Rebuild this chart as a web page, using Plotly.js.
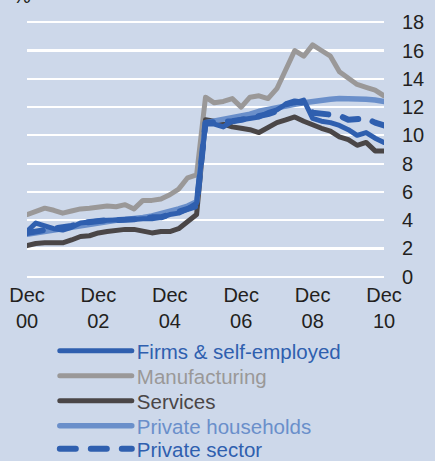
<!DOCTYPE html>
<html>
<head>
<meta charset="utf-8">
<script src="https://cdn.plot.ly/plotly-3.0.1.min.js"></script>
<style>
html,body{margin:0;padding:0;background:#cdd8ea;}
#chart{width:435px;height:461px;}
path.js-line{stroke-linecap:round;stroke-linejoin:round;}
.legendlines path{stroke-linecap:round;}
</style>
</head>
<body>
<div id="chart"></div>
<script>
// Quarterly dates, Dec 2000 - Dec 2010
const dates = [
 '2000-12-01','2001-03-01','2001-06-01','2001-09-01','2001-12-01',
 '2002-03-01','2002-06-01','2002-09-01','2002-12-01',
 '2003-03-01','2003-06-01','2003-09-01','2003-12-01',
 '2004-03-01','2004-06-01','2004-09-01','2004-12-01',
 '2005-03-01','2005-06-01','2005-09-01','2005-12-01',
 '2006-03-01','2006-06-01','2006-09-01','2006-12-01',
 '2007-03-01','2007-06-01','2007-09-01','2007-12-01',
 '2008-03-01','2008-06-01','2008-09-01','2008-12-01',
 '2009-03-01','2009-06-01','2009-09-01','2009-12-01',
 '2010-03-01','2010-06-01','2010-09-01','2010-12-01'
];

const firms = [3.2,3.8,3.6,3.4,3.3,3.5,3.8,3.9,3.95,4.0,4.0,4.0,4.05,4.1,4.1,4.2,4.4,4.5,4.8,5.2,
 10.8,10.8,10.6,11.0,11.1,11.2,11.3,11.6,11.8,12.2,12.3,12.5,11.2,11.0,10.9,10.7,10.4,10.0,10.2,9.8,9.5];
const manufacturing = [4.4,4.6,4.85,4.7,4.5,4.65,4.8,4.85,4.9,5.0,4.95,5.1,4.8,5.4,5.4,5.5,5.8,6.2,7.0,7.2,
 12.7,12.3,12.4,12.6,12.0,12.7,12.8,12.6,13.3,14.7,16.0,15.6,16.4,16.0,15.6,14.5,14.0,13.6,13.4,13.2,12.8];
const services = [2.2,2.35,2.4,2.4,2.4,2.6,2.85,2.9,3.1,3.2,3.3,3.35,3.35,3.2,3.1,3.2,3.2,3.4,3.9,4.4,
 11.1,11.0,10.8,10.6,10.5,10.4,10.2,10.6,10.9,11.1,11.3,11.0,10.7,10.5,10.3,9.9,9.7,9.3,9.5,8.9,8.9];
const households = [3.0,3.1,3.2,3.3,3.4,3.5,3.6,3.75,3.85,3.95,4.0,4.05,4.1,4.2,4.3,4.45,4.6,4.8,5.0,5.3,
 10.9,11.0,11.15,11.3,11.4,11.5,11.7,11.85,12.0,12.1,12.2,12.3,12.4,12.5,12.55,12.6,12.6,12.6,12.55,12.5,12.4];
const privateSector = [3.1,3.2,3.3,3.4,3.4,3.6,3.8,3.9,3.95,4.0,4.0,4.0,4.0,4.1,4.2,4.2,4.4,4.6,4.7,5.0,
 10.9,10.9,10.9,11.0,11.1,11.2,11.4,11.5,11.7,12.2,12.4,12.3,11.6,11.5,11.5,11.4,11.1,11.1,11.2,10.9,10.7];

const names = ['Firms & self-employed','Manufacturing','Services','Private households','Private sector'];
const tickVals = ['2000-12-01','2002-12-01','2004-12-01','2006-12-01','2008-12-01','2010-12-01'];
const tickText = ['Dec<br>00','Dec<br>02','Dec<br>04','Dec<br>06','Dec<br>08','Dec<br>10'];
const yTicks = [0,2,4,6,8,10,12,14,16,18];

const cFirms = '#2f5faf', cManu = '#9a9898', cServ = '#4a4647', cHouse = '#6a8fca';

function nm(t,c){return '<span style="color:'+c+'">'+t+'</span>';}

const traces = [
 {x:dates,y:manufacturing,name:nm(names[1],cManu),mode:'lines',line:{color:cManu,width:5},legend:'legend2'},
 {x:dates,y:services,name:nm(names[2],cServ),mode:'lines',line:{color:cServ,width:5},legend:'legend3'},
 {x:dates,y:households,name:nm(names[3],cHouse),mode:'lines',line:{color:cHouse,width:5.5},legend:'legend4'},
 {x:dates,y:firms,name:nm(names[0],cFirms),mode:'lines',line:{color:cFirms,width:5},legend:'legend'},
 {x:dates,y:privateSector,name:nm(names[4],cFirms),mode:'lines',line:{color:cFirms,width:6,dash:'16px,15px'},legend:'legend5'}
];

// legend row centres (px from top)
const rowY = [351,376,401,426,449];
function leg(i){
  return {xref:'container',yref:'container',x:0.126,xanchor:'left',y:1-rowY[i]/461,yanchor:'middle',
    bgcolor:'rgba(0,0,0,0)',font:{size:20.5},itemwidth:72,borderwidth:0};
}

const layout = {
 width:435,height:461,
 paper_bgcolor:'#cdd8ea',plot_bgcolor:'#cdd8ea',
 font:{family:'"Liberation Sans", Arial, sans-serif',size:20,color:'#231f20'},
 margin:{l:27,r:51,t:18,b:180,pad:0,autoexpand:false},
 showlegend:true,
 legend:leg(0),legend2:leg(1),legend3:leg(2),legend4:leg(3),legend5:leg(4),
 xaxis:{type:'date',range:['2000-12-01','2010-12-01'],tickvals:tickVals,ticktext:tickText,
   showgrid:false,zeroline:false,showline:false,ticks:'',tickangle:0,automargin:false,
   tickfont:{size:20,color:'#231f20'},ticklabelstandoff:0},
 yaxis:{range:[-0.3,18.3],side:'right',tickvals:yTicks,ticktext:yTicks.map(String),automargin:false,
   showgrid:true,gridcolor:'#ffffff',gridwidth:2.2,zeroline:false,showline:false,ticks:'',
   tickfont:{size:20,color:'#231f20'},ticklabelstandoff:17},
 annotations:[{text:'%',xref:'paper',yref:'paper',x:-0.045,y:1.0,xanchor:'left',yanchor:'bottom',
   showarrow:false,font:{size:20,color:'#231f20'},yshift:9}]
};

Plotly.newPlot('chart',traces,layout,{displayModeBar:false,staticPlot:true});
</script>
</body>
</html>
